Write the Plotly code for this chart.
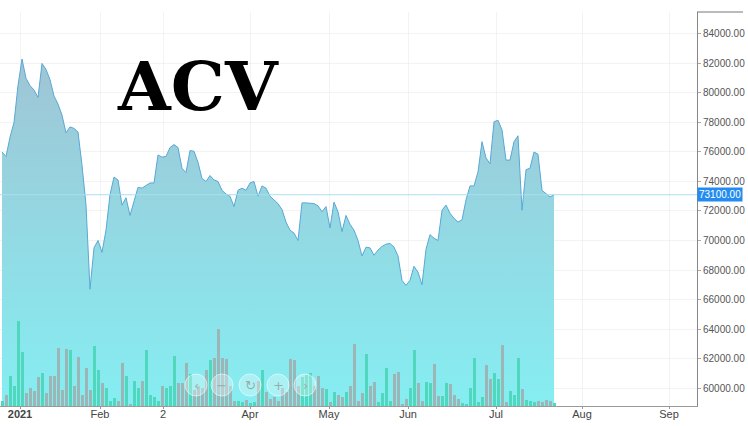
import plotly.graph_objects as go

# ---- data ----
price = [76000, 75700, 77000, 78000, 80500, 82300, 81000, 80500, 80200, 79700,
         82000, 81600, 80900, 79800, 79250, 78500, 77300, 77700, 77600, 77350,
         75100, 72400, 66700, 69500, 70000, 69200, 70700, 73100, 74300, 74100,
         72400, 72900, 71700, 72700, 73600, 73550, 73700, 73900, 73900, 75800,
         75650, 75700, 76300, 76500, 76300, 74900, 74600, 76100, 76050, 75300,
         74200, 74000, 74400, 74100, 74000, 73400, 73150, 73000, 72300, 73400,
         73550, 73400, 73900, 74000, 73000, 73700, 73550, 73000, 72750, 72500,
         72100, 71250, 70700, 70500, 70000, 72550, 72550, 72550, 72500, 72350,
         71950, 72300, 70850, 72600, 71950, 70600, 71700, 71100, 70700, 70000,
         68950, 69550, 69500, 69000, 69350, 69600, 69750, 69800, 69550, 68950,
         67300, 66950, 67300, 68250, 67850, 67000, 69400, 70400, 70150, 70000,
         72050, 72400, 71850, 71500, 71250, 71400, 72750, 73700, 73700, 74650,
         76700, 75600, 75200, 78050, 78150, 77500, 75450, 75450, 76700, 77100,
         72050, 74800, 74900, 76000, 75850, 73400, 73150, 72950, 73100]

volume = [15, 30, 85, 57, 237, 150, 35, 50, 43, 80, 93, 37, 83, 83, 163, 45, 158,
          157, 57, 137, 30, 107, 45, 167, 100, 65, 50, 15, 23, 15, 120, 85, 5, 69,
          50, 70, 155, 30, 25, 15, 55, 50, 55, 140, 63, 65, 120, 90, 45, 55, 50,
          100, 127, 135, 215, 135, 130, 55, 15, 13, 10, 17, 7, 10, 70, 100, 40, 20,
          25, 15, 50, 40, 130, 127, 55, 80, 87, 92, 55, 85, 50, 47, 10, 40, 30, 25,
          40, 55, 173, 15, 37, 145, 55, 67, 10, 35, 105, 15, 90, 95, 5, 20, 50,
          157, 65, 15, 67, 65, 118, 27, 27, 63, 60, 30, 20, 7, 5, 50, 133, 10, 25,
          113, 75, 93, 75, 171, 10, 43, 30, 133, 47, 17, 15, 10, 15, 10, 17, 13, 7]
volume = [v * 1000 for v in volume]

last_price = 73100
tick_index = [4.5, 24.5, 40.25, 62, 81.75, 101.5, 123.5, 145, 166.75]
tick_labels = ["<b>2021</b>", "Feb", "2", "Apr", "May", "Jun", "Jul", "Aug", "Sep"]
y_ticks = list(range(60000, 84001, 2000))

n = len(price)
idx = list(range(n))

bar_colors = []
for i in range(n):
    up = i == 0 or price[i] >= price[i - 1]
    bar_colors.append("rgb(80,216,190)" if up else "rgb(156,182,184)")

fig = go.Figure()

fig.add_trace(go.Scatter(
    x=idx, y=price, mode="lines",
    line=dict(color="rgb(88,168,214)", width=1),
    fill="tozeroy",
    fillgradient=dict(type="vertical", start=58780, stop=82500,
                      colorscale=[[0, "rgb(133,238,242)"], [1, "rgb(160,196,212)"]]),
    hoverinfo="skip", showlegend=False,
))

fig.add_trace(go.Bar(
    x=idx, y=volume, yaxis="y2", width=0.75,
    marker=dict(color=bar_colors, line=dict(width=0)),
    hoverinfo="skip", showlegend=False,
))

# current price line
fig.add_trace(go.Scatter(
    x=[-0.5, 173.75], y=[last_price, last_price], mode="lines",
    line=dict(color="rgb(170,222,242)", width=1.2),
    hoverinfo="skip", showlegend=False,
))

W, H = 748, 426
ml, mr, mt, mb = 0, 51, 12, 20
pw, ph = W - ml - mr, H - mt - mb

shapes = [
    dict(type="line", xref="paper", yref="paper", x0=1, x1=1 + 46 / pw, y0=1, y1=1,
         line=dict(color="#777", width=1)),
]
annotations = [
    dict(text="<b>ACV</b>", xref="paper", yref="paper", x=198 / pw, y=1 - (86 - mt) / ph,
         showarrow=False, xanchor="center", yanchor="middle",
         font=dict(family="DejaVu Serif", size=68, color="black")),
    dict(text="73100.00", xref="paper", yref="y", x=1, y=last_price, xanchor="left",
         yanchor="middle", showarrow=False, bgcolor="rgb(36,140,240)",
         font=dict(family="Liberation Sans", size=10, color="white"),
         borderpad=1, xshift=0),
]

btn_x = [196, 222, 250, 278, 305]
btn_sym = ["‹", "−", "↻", "+", "›"]
r = 11
for bx, s in zip(btn_x, btn_sym):
    cy = 1 - (385 - mt) / ph
    shapes.append(dict(type="circle", xref="paper", yref="paper",
                       x0=(bx - r) / pw, x1=(bx + r) / pw,
                       y0=cy - r / ph, y1=cy + r / ph,
                       fillcolor="rgba(255,255,255,0.3)",
                       line=dict(color="rgba(255,255,255,0.55)", width=1)))
    annotations.append(dict(text=s, xref="paper", yref="paper", x=bx / pw, y=cy,
                            showarrow=False, xanchor="center", yanchor="middle",
                            font=dict(family="DejaVu Sans", size=13,
                                      color="rgba(150,160,160,0.85)")))

fig.update_layout(
    width=W, height=H,
    margin=dict(l=ml, r=mr, t=mt, b=mb, autoexpand=False),
    paper_bgcolor="white", plot_bgcolor="white",
    bargap=0,
    xaxis=dict(range=[-0.5, 173.75], tickvals=tick_index, ticktext=tick_labels,
               showgrid=True, gridcolor="rgba(235,235,235,0.6)", gridwidth=1,
               showline=True, linecolor="#999", linewidth=1,
               ticks="outside", ticklen=2, tickcolor="#999",
               ticklabelstandoff=-4,
               tickfont=dict(family="Liberation Sans", size=11, color="#444"),
               zeroline=False, fixedrange=True, automargin=False),
    yaxis=dict(range=[58780, 85490], side="right", tickvals=y_ticks,
               ticktext=[f"{v:.2f}" for v in y_ticks],
               showgrid=True, gridcolor="rgba(235,235,235,0.6)",
               showline=True, linecolor="#888", linewidth=1,
               ticks="outside", ticklen=3, tickcolor="#aaa",
               tickfont=dict(family="Liberation Sans", size=10, color="#555"),
               zeroline=False, automargin=False),
    yaxis2=dict(range=[0, 237000 / 0.2157], overlaying="y", visible=False,
                showgrid=False, zeroline=False, automargin=False),
    shapes=shapes, annotations=annotations,
)

fig.write_html("out.html", config={"displayModeBar": False},
               post_script="document.body.style.margin='0';document.body.style.overflow='hidden';")
